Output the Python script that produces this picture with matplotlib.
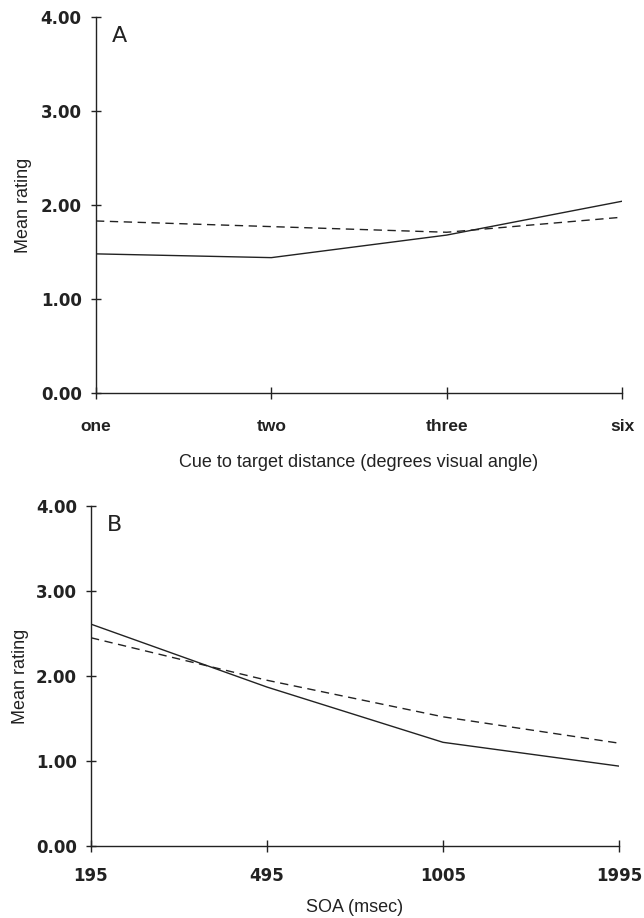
import numpy as np
import matplotlib
matplotlib.use('Agg')
import matplotlib.pyplot as plt

plt.rcParams['font.family'] = ['Liberation Sans', 'DejaVu Sans']

#================================================
# Panel A: cue to target distance
dist_labels = ['one', 'two', 'three', 'six']
dist_solid = [1.48, 1.44, 1.68, 2.04]
dist_dashed = [1.83, 1.77, 1.71, 1.87]

# Panel B: SOA
soa_labels = ['195', '495', '1005', '1995']
soa_solid = [2.61, 1.87, 1.22, 0.94]
soa_dashed = [2.45, 1.95, 1.52, 1.21]

y_ticks = [0, 1, 2, 3, 4]
y_labels = ['0.00', '1.00', '2.00', '3.00', '4.00']

INK = '#222222'

#================================================

def draw_panel(ax, labels, solid, dashed, xlabel, letter, xfont, xpad, xlabelpad, ylabelpad):
    x = np.arange(len(labels))
    ax.plot(x, solid, color=INK, linewidth=1.0)
    ax.plot(x, dashed, color=INK, linewidth=1.0, dashes=(6, 4))
    ax.set_xlim(0, len(labels) - 1)
    ax.set_ylim(0, 4)
    ax.set_xticks(x)
    ax.set_xticklabels(labels, color=INK, **xfont)
    ax.set_yticks(y_ticks)
    ax.set_yticklabels(y_labels, fontsize=12, fontweight='bold', family='DejaVu Sans', color=INK)
    ax.spines['top'].set_visible(False)
    ax.spines['right'].set_visible(False)
    for s in ['left', 'bottom']:
        ax.spines[s].set_linewidth(1.0)
        ax.spines[s].set_color(INK)
    ax.tick_params(axis='x', direction='inout', length=8, width=1.0, pad=xpad, color=INK)
    ax.tick_params(axis='y', direction='inout', length=6.5, width=1.0, pad=7, color=INK)
    ax.set_ylabel('Mean rating', fontsize=13, color=INK, labelpad=ylabelpad)
    ax.set_xlabel(xlabel, fontsize=13, color=INK, labelpad=xlabelpad)
    ax.text(0.03, 0.975, letter, transform=ax.transAxes, fontsize=16,
            va='top', ha='left', family='DejaVu Sans', color=INK)

fig = plt.figure(figsize=(6.44, 9.18), dpi=100)
axA = fig.add_axes([0.149, 0.5719, 0.817, 0.4096])
axB = fig.add_axes([0.1413, 0.0784, 0.8199, 0.3704])

draw_panel(axA, dist_labels, dist_solid, dist_dashed,
           'Cue to target distance (degrees visual angle)', 'A',
           dict(fontsize=12.5, fontweight='bold', family='Liberation Sans'),
           xpad=15, xlabelpad=14, ylabelpad=6)
draw_panel(axB, soa_labels, soa_solid, soa_dashed, 'SOA (msec)', 'B',
           dict(fontsize=12, fontweight='bold', family='DejaVu Sans'),
           xpad=11, xlabelpad=10, ylabelpad=5)

fig.savefig('out.png', dpi=100)
